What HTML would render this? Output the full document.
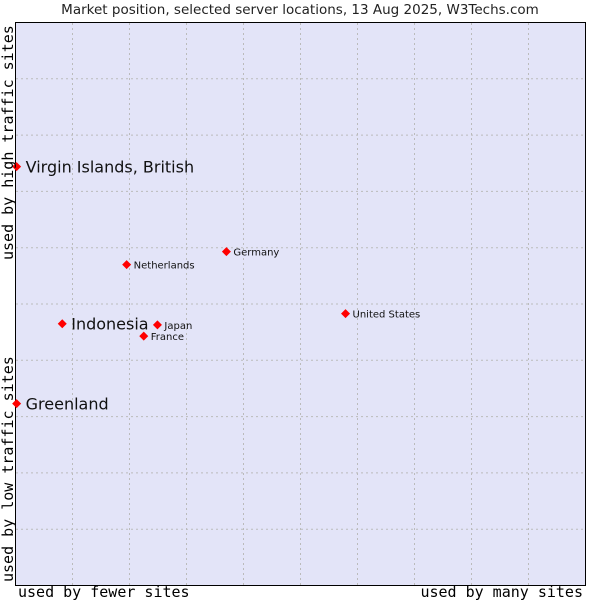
<!DOCTYPE html>
<html><head><meta charset="utf-8"><style>
body{margin:0;background:#fff;width:600px;height:600px;overflow:hidden}
svg{display:block;font-family:"DejaVu Sans","Liberation Sans",sans-serif}
</style></head><body>
<svg id="c" width="600" height="600">
<text x="300" y="14" text-anchor="middle" font-size="13.5" fill="#222">Market position, selected server locations, 13 Aug 2025, W3Techs.com</text>
<rect x="15.5" y="22.5" width="570" height="563" fill="#e3e4f8" stroke="#000"/>
<g id="grid"></g>
<g id="pts"></g>
<text x="18" y="597" font-family="DejaVu Sans Mono, Liberation Mono, monospace" font-size="15">used by fewer sites</text>
<text x="583" y="597" text-anchor="end" font-family="DejaVu Sans Mono, Liberation Mono, monospace" font-size="15">used by many sites</text>
<text transform="translate(13,582) rotate(-90)" font-family="DejaVu Sans Mono, Liberation Mono, monospace" font-size="15">used by low traffic sites</text>
<text transform="translate(13,260) rotate(-90)" font-family="DejaVu Sans Mono, Liberation Mono, monospace" font-size="15">used by high traffic sites</text>
</svg>
<script>
const names=["Virgin Islands, British","Greenland","Indonesia","Japan","France","Netherlands","Germany","United States"];
const xs=[0.2,0.2,8.2,24.9,22.5,19.5,37,57.9];
const ys=[74.4,32.3,46.5,46.3,44.3,57.0,59.3,48.3];
const big=[true,true,true,false,false,false,false,false];
const X=v=>15.5+v*5.7, Y=v=>585.5-v*5.63;
const ns="http://www.w3.org/2000/svg";
const g=document.getElementById('grid'),p=document.getElementById('pts');
for(let i=1;i<10;i++){
 let l=document.createElementNS(ns,'line');
 
 
 l.setAttribute('x1',X(i*10));l.setAttribute('x2',X(i*10));l.setAttribute('y1',23);l.setAttribute('y2',585);
 l.setAttribute('stroke','#bbb');l.setAttribute('stroke-dasharray','2,3');g.appendChild(l);
 let h=document.createElementNS(ns,'line');
 
 
 h.setAttribute('y1',Y(i*10));h.setAttribute('y2',Y(i*10));h.setAttribute('x1',16);h.setAttribute('x2',585);
 h.setAttribute('stroke','#bbb');h.setAttribute('stroke-dasharray','2,3');g.appendChild(h);
}
names.forEach((n,i)=>{
 const x=X(xs[i]),y=Y(ys[i]);
 let d=document.createElementNS(ns,'path');
 
 
 d.setAttribute('d',`M${x-4.5},${y}L${x},${y-4.5}L${x+4.5},${y}L${x},${y+4.5}Z`);
 d.setAttribute('fill','#f00');p.appendChild(d);
 let t=document.createElementNS(ns,'text');
 
 
 t.setAttribute('x',x+(big[i]?9:7));t.setAttribute('y',y+(big[i]?6:4));
 t.setAttribute('font-size',big[i]?16:10);t.setAttribute('fill','#111');
 t.textContent=n;p.appendChild(t);
});
</script>
</body></html>
